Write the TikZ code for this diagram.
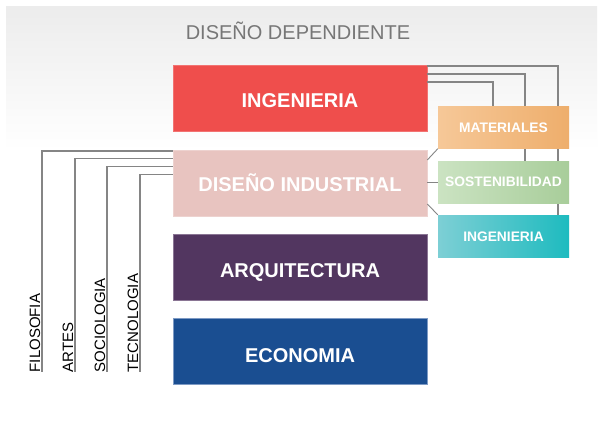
\documentclass[tikz,border=0pt]{standalone}
\usepackage{fontspec}
\setmainfont{Liberation Sans}
\begin{document}
\begin{tikzpicture}[x=1pt,y=-1pt,
  conn/.style={draw=linegray,line width=1.1pt},
  bigbox/.style={minimum width=254pt,minimum height=66pt,inner sep=0pt,text height=14.3pt,text depth=0pt,text=white,font=\bfseries\fontsize{20}{24}\selectfont},
  smallbox/.style={minimum width=131pt,minimum height=42pt,inner sep=0pt,text height=9.9pt,text depth=0pt,text=white,font=\bfseries\fontsize{13.8}{16}\selectfont},
  sidelabel/.style={rotate=90,anchor=base west,inner sep=0pt,text=black,font=\fontsize{15}{18}\selectfont}]
\definecolor{linegray}{HTML}{858585}
\definecolor{bgtop}{HTML}{ECECEC}
\definecolor{cred}{HTML}{EF4E4C}
\definecolor{credb}{HTML}{F27372}
\definecolor{cpink}{HTML}{E8C4C0}
\definecolor{cpinkb}{HTML}{EDD2CF}
\definecolor{cpurple}{HTML}{523660}
\definecolor{cpurpleb}{HTML}{8A7594}
\definecolor{cblue}{HTML}{1A4E91}
\definecolor{cblueb}{HTML}{7D9AC4}
\definecolor{corl}{HTML}{F6C898}
\definecolor{corr}{HTML}{EEAE6C}
\definecolor{cgrl}{HTML}{CBE3C2}
\definecolor{cgrr}{HTML}{A8CD9A}
\definecolor{ctel}{HTML}{7DCFD5}
\definecolor{cter}{HTML}{1EBBBF}
\definecolor{titlegray}{HTML}{777777}
\useasboundingbox (0,0) rectangle (600,423);
\fill[white] (0,0) rectangle (600,423);
\shade[top color=bgtop,bottom color=white] (6,6) rectangle (597,150);
% title
\node[text=titlegray,font=\fontsize{20}{24}\selectfont,inner sep=0pt] (title) at (298,31) {DISEÑO DEPENDIENTE};
% main boxes
\node[bigbox,fill=cred,draw=credb,line width=0.6pt] (ing) at (300,98.5) {\raisebox{-1.5pt}{INGENIERIA}};
\node[bigbox,fill=cpink,draw=cpinkb,line width=0.6pt] (dis) at (300,183) {\raisebox{-1.5pt}{DISEÑO INDUSTRIAL}};
\node[bigbox,fill=cpurple,draw=cpurpleb,line width=0.6pt] (arq) at (300,267) {\raisebox{-3pt}{ARQUITECTURA}};
\node[bigbox,fill=cblue,draw=cblueb,line width=0.6pt] (eco) at (300,351) {\raisebox{-4pt}{ECONOMIA}};
% coordinates for connectors
\coordinate (r1) at (558,66);
\coordinate (r2) at (525,74);
\coordinate (r3) at (493,82);
\coordinate (l1) at (42,372);
\coordinate (l2) at (75,372);
\coordinate (l3) at (107,372);
\coordinate (l4) at (140,372);
% connectors behind the small boxes
\draw[conn] (ing.east |- r1) -| (558,215);
\draw[conn] (ing.east |- r2) -| (525,161);
\draw[conn] (ing.east |- r3) -| (493,106);
% small boxes
\node[smallbox,left color=corl,right color=corr] (mat) at (503.5,127.5) {MATERIALES};
\node[smallbox,left color=cgrl,right color=cgrr] (sos) at (503.5,182) {SOSTENIBILIDAD};
\node[smallbox,left color=ctel,right color=cter] (tel) at (503.5,236) {\raisebox{-1pt}{INGENIERIA}};
% diagonal connectors
\draw[conn,line width=0.9pt] (dis.east |- 0,160) -- (mat.south west);
\draw[conn,line width=0.9pt] (dis.east |- sos.west) -- (sos.west);
\draw[conn,line width=0.9pt] (dis.east |- 0,204) -- (tel.north west);
% left connectors
\draw[conn] (dis.west |- 0,151) -| (l1);
\draw[conn] (dis.west |- 0,158.5) -| (l2);
\draw[conn] (dis.west |- 0,166.5) -| (l3);
\draw[conn] (dis.west |- 0,174.5) -| (l4);
% side labels
\node[sidelabel] (fil) at (40,372.5) {FILOSOFIA};
\node[sidelabel] (art) at (73,372.5) {ARTES};
\node[sidelabel] (soc) at (105,372.5) {SOCIOLOGIA};
\node[sidelabel] (tec) at (138,372.5) {TECNOLOGIA};
\end{tikzpicture}
\end{document}
